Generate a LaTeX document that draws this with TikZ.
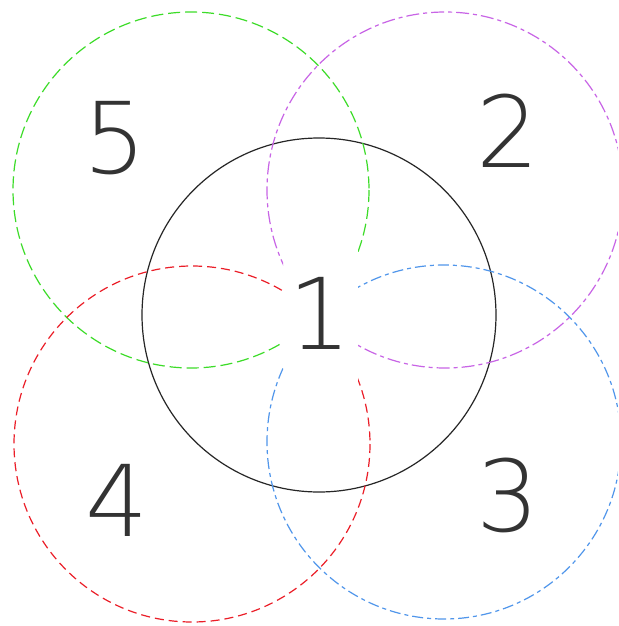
\documentclass[tikz,border=0pt]{standalone}
\usepackage{fontspec}
\newfontfamily\cadfont{DejaVu Sans ExtraLight}
\definecolor{cgreen}{RGB}{60,220,40}
\definecolor{cpurple}{RGB}{200,100,230}
\definecolor{cred}{RGB}{235,30,40}
\definecolor{cblue}{RGB}{80,150,235}
\begin{document}
\begin{tikzpicture}[x=1pt,y=-1pt,
  ring/.style={line width=1.2pt},
  digit/.style={inner sep=0pt,font=\cadfont\fontsize{99}{99}\selectfont,text=black!80}]
\useasboundingbox (0,0) rectangle (618,626);
\fill[white] (0,0) rectangle (618,626);
\coordinate (c1) at (319,315);
\coordinate (c2) at (445,190);
\coordinate (c3) at (444,442);
\coordinate (c4) at (192,444);
\coordinate (c5) at (191,190);
\draw[ring,black!85] (c1) circle[radius=177];
\begin{scope}[even odd rule]
  \clip (0,0) rectangle (618,626) (283,240) rectangle (358,390);
  \draw[ring,cgreen,dash pattern=on 12pt off 5pt] (c5) circle[radius=178];
  \draw[ring,cpurple,dash pattern=on 13pt off 4pt on 4pt off 4pt] (c2) circle[radius=178];
  \draw[ring,cred,dash pattern=on 9pt off 5pt] (c4) circle[radius=178];
  \draw[ring,cblue,dash pattern=on 11pt off 4pt on 4pt off 4pt] (c3) circle[radius=177];
\end{scope}
\node[digit] (n1) at (320,313) {1};
\node[digit] (n2) at (508,131) {2};
\node[digit] (n3) at (508,495) {3};
\node[digit] (n4) at (117,500) {4};
\node[digit] (n5) at (115,138) {5};
\end{tikzpicture}
\end{document}
